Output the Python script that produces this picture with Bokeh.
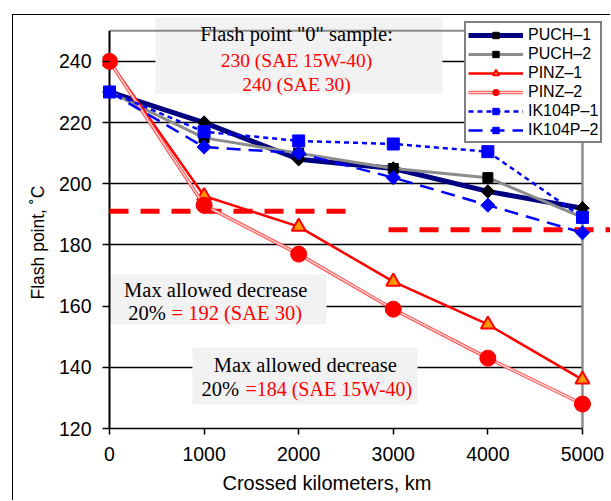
import numpy as np
from bokeh.plotting import figure
from bokeh.models import Range1d, Label, Legend, LegendItem, FixedTicker, Title
from bokeh.embed import file_html
from bokeh.resources import INLINE

# ---------------- data ----------------
km = [0, 1000, 2000, 3000, 4000, 5000]
puch_1 = [230, 220, 208, 205, 197.5, 192]
puch_2 = [230, 215, 210, 205, 202, 189]
pinz_1 = [240, 196, 186, 168, 154, 136]
pinz_2 = [240, 193, 177, 159, 143, 128]
ik104p_1 = [230, 217, 214, 213, 210.5, 189]
ik104p_2 = [230, 212, 210, 202, 193, 184]

x_ticks = [0, 1000, 2000, 3000, 4000, 5000]
y_ticks = [120, 140, 160, 180, 200, 220, 240]
y_max = 250

limit_sae30_km = [0, 2500]
limit_sae30_val = [191, 191]
limit_sae15_km = [2950, 5400]
limit_sae15_val = [185, 185]

SERIF = "Liberation Serif"
SANS = "Liberation Sans"
RED = "#ff0000"

# ---------------- figure ----------------
p = figure(width=598, height=486, output_backend="svg", toolbar_location=None,
           x_range=Range1d(-74, 5307), y_range=Range1d(120, 255),
           min_border_left=89, min_border_right=0, min_border_top=0,
           min_border_bottom=73)
p.margin = (14, 0, 0, 12)
p.styles = {"border-top": "1.5px solid black", "border-left": "1.5px solid black"}
p.outline_line_color = None
p.background_fill_color = "white"
p.border_fill_color = "white"

# axes
p.xaxis.ticker = FixedTicker(ticks=x_ticks)
p.xaxis.bounds = (x_ticks[0], x_ticks[-1])
p.xaxis.axis_line_color = "black"
p.xaxis.axis_line_width = 1.5
p.xaxis.major_tick_out = 6
p.xaxis.major_tick_in = 0
p.xaxis.major_tick_line_width = 1.5
p.xaxis.minor_tick_line_color = None
p.xaxis.major_label_text_font = SANS
p.xaxis.major_label_text_font_size = "19.5px"
p.xaxis.major_label_text_color = "black"
p.xaxis.major_label_standoff = 12

p.yaxis.ticker = FixedTicker(ticks=y_ticks)
p.yaxis.axis_line_color = None
p.yaxis.major_tick_in = 7
p.yaxis.major_tick_out = 0
p.yaxis.major_tick_line_width = 1.5
p.yaxis.minor_tick_line_color = None
p.yaxis.major_label_text_font = SANS
p.yaxis.major_label_text_font_size = "19.5px"
p.yaxis.major_label_text_color = "black"
p.yaxis.major_label_standoff = 11

# axis titles as side titles (so they can be offset like the reference)
xt = Title(text="Crossed kilometers, km", align="left", offset=120,
           text_font=SANS, text_font_size="20px", text_font_style="normal",
           text_color="black", standoff=13)
p.add_layout(xt, "below")
yt = Title(text="Flash point, ˚C", align="left", offset=129,
           text_font=SANS, text_font_size="17.5px", text_font_style="normal",
           text_color="black", standoff=16)
p.add_layout(yt, "left")

# grid
p.xgrid.visible = False
p.ygrid.ticker = FixedTicker(ticks=y_ticks)
p.ygrid.grid_line_color = "black"
p.ygrid.grid_line_width = 1.5
try:
    p.ygrid.cross_bounds = (x_ticks[0], x_ticks[-1])
except Exception:
    pass

# ---------------- text boxes (backgrounds) ----------------
BOX = "#f2f2f2"
p.quad(left=[486, 0, 877], right=[3520, 2294, 3256],
       top=[254.4, 170.35, 146.5], bottom=[229.5, 154.0, 127.85],
       fill_color=BOX, line_color=None)

# plot-area border (gray) and y axis line
p.segment(x0=[x_ticks[0]], y0=[y_max], x1=[x_ticks[-1]], y1=[y_max],
          line_color="#8c8c8c", line_width=2)
p.segment(x0=[x_ticks[-1]], y0=[y_ticks[0]], x1=[x_ticks[-1]], y1=[y_max],
          line_color="#8c8c8c", line_width=2.5)
p.segment(x0=[x_ticks[0]], y0=[y_ticks[0]], x1=[x_ticks[0]], y1=[y_max],
          line_color="black", line_width=2)

# limit lines
p.line(limit_sae30_km, limit_sae30_val, line_color=RED, line_width=5, line_dash="19 12")
p.line(limit_sae15_km, limit_sae15_val, line_color=RED, line_width=5, line_dash="19 12")

# ---------------- series ----------------
items = []

l1 = p.line(km, puch_1, line_color="#000080", line_width=5)
m1 = p.scatter(km, puch_1, marker="square", angle=np.pi / 4, size=9.5,
               fill_color="black", line_color="black")
items.append(LegendItem(label="PUCH–1", renderers=[l1, m1]))

l2 = p.line(km, puch_2, line_color="#8c8c8c", line_width=3)
m2 = p.scatter(km, puch_2, marker="square", size=10,
               fill_color="black", line_color="black")
items.append(LegendItem(label="PUCH–2", renderers=[l2, m2]))

l3 = p.line(km, pinz_1, line_color=RED, line_width=2.5)
m3 = p.scatter(km, pinz_1, marker="triangle", size=14,
               fill_color="#ff9900", line_color=RED, line_width=2)
items.append(LegendItem(label="PINZ–1", renderers=[l3, m3]))

l4a = p.line(km, pinz_2, line_color="#ff5050", line_width=3.5)
l4b = p.line(km, pinz_2, line_color="#ffd0d0", line_width=1.5)
m4 = p.scatter(km, pinz_2, marker="circle", size=16,
               fill_color=RED, line_color=RED)
items.append(LegendItem(label="PINZ–2", renderers=[l4a, l4b, m4]))

l5 = p.line(km, ik104p_1, line_color="#0000ff", line_width=2.5, line_dash="5 4")
m5 = p.scatter(km, ik104p_1, marker="square", size=12,
               fill_color="#0000ff", line_color="#0000ff")
items.append(LegendItem(label="IK104P–1", renderers=[l5, m5]))

l6 = p.line(km, ik104p_2, line_color="#0000ff", line_width=2.5, line_dash="14 8")
m6 = p.scatter(km, ik104p_2, marker="square", angle=np.pi / 4, size=10,
               fill_color="#0000ff", line_color="#0000ff")
items.append(LegendItem(label="IK104P–2", renderers=[l6, m6]))

legend = Legend(items=items, location=(362, 285),
                label_text_font=SANS, label_text_font_size="16px",
                label_text_color="black", label_standoff=5,
                glyph_width=55, glyph_height=16, label_height=19,
                spacing=0, padding=2, margin=0,
                border_line_color="black", border_line_width=2,
                background_fill_color="white", background_fill_alpha=1.0)
p.add_layout(legend)


# ---------------- texts ----------------
def txt(x, y, s, color="black", size="20.5px", align="center", font=SERIF):
    p.add_layout(Label(x=x, y=y, text=s, text_color=color, text_font=font,
                       text_font_size=size, text_align=align,
                       text_baseline="middle"))


txt(1977, 248.8, 'Flash point "0" sample:', size="20.5px")
txt(1977, 240.3, "230 (SAE 15W-40)", color=RED, size="19.5px")
txt(1977, 232.5, "240 (SAE 30)", color=RED, size="19.5px")

txt(1123, 165.35, "Max allowed decrease")
txt(198, 157.7, "20%", align="left")
txt(655, 157.7, "= 192 (SAE 30)", color=RED, align="left")

txt(2070, 140.6, "Max allowed decrease")
txt(972, 133.0, "20%", align="left")
txt(1437, 133.0, "=184 (SAE 15W-40)", color=RED, align="left", size="20px")

open("out.html", "w").write(file_html(p, INLINE))
